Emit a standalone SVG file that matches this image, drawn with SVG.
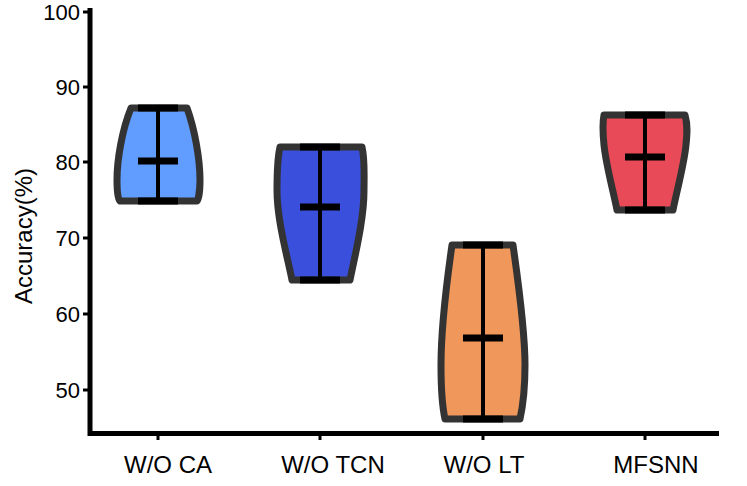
<svg xmlns="http://www.w3.org/2000/svg" width="747" height="486" viewBox="0 0 747 486">
<style>
.v{stroke:#333;stroke-width:7;stroke-linejoin:round}
.c{stroke:#000;stroke-width:7}
.w{stroke:#000;stroke-width:4}
.t{font-family:"Liberation Sans",Arial,sans-serif;fill:#000}
</style>
<rect width="747" height="486" fill="#fff"/>
<g id="axes" stroke="#000">
<line x1="90" y1="8" x2="90" y2="436" stroke-width="5"/>
<line x1="88" y1="433.5" x2="719" y2="433.5" stroke-width="5"/>
<g stroke-width="3"><line x1="83" y1="12" x2="90" y2="12"/><line x1="83" y1="87" x2="90" y2="87"/><line x1="83" y1="162" x2="90" y2="162"/><line x1="83" y1="238" x2="90" y2="238"/><line x1="83" y1="314" x2="90" y2="314"/><line x1="83" y1="390" x2="90" y2="390"/>
<line x1="158" y1="433" x2="158" y2="440"/><line x1="320" y1="433" x2="320" y2="440"/><line x1="483" y1="433" x2="483" y2="440"/><line x1="645" y1="433" x2="645" y2="440"/></g>
</g>
<g class="t" font-size="22" text-anchor="end">
<text x="80" y="20">100</text><text x="80" y="95">90</text><text x="80" y="170">80</text><text x="80" y="246">70</text><text x="80" y="322">60</text><text x="80" y="398">50</text>
</g>
<g class="t" font-size="24" text-anchor="middle">
<text x="168" y="473">W/O CA</text><text x="333" y="473">W/O TCN</text><text x="484" y="473">W/O LT</text><text x="656" y="473">MFSNN</text>
<text transform="translate(32,236) rotate(-90)">Accuracy(%)</text>
</g>
<g id="v1"><path class="v" fill="#619CFF" d="M131,108 L187,108 C195,130 200,160 200,180 C200,192 198,200 197,201 L120,201 C118,200 117,192 117,180 C117,160 122,130 131,108 Z"/>
<line class="w" x1="158" y1="108" x2="158" y2="201"/><line class="c" x1="138" y1="108" x2="178" y2="108"/><line class="c" x1="138" y1="201" x2="178" y2="201"/><line class="c" x1="138" y1="161" x2="178" y2="161"/></g>
<g id="v2"><path class="v" fill="#3A50DC" d="M280,147 L362,147 C365,160 364,175 364,190 C364,220 355,255 350,280 L292,280 C287,255 277,220 277,190 C277,175 277,160 280,147 Z"/>
<line class="w" x1="320" y1="147" x2="320" y2="280"/><line class="c" x1="300" y1="147" x2="340" y2="147"/><line class="c" x1="300" y1="280" x2="340" y2="280"/><line class="c" x1="300" y1="207" x2="340" y2="207"/></g>
<g id="v3"><path class="v" fill="#F0975C" d="M452,245 L513,245 C518,280 525,330 525,365 C525,395 522,410 520,419 L445,419 C443,410 441,395 441,365 C441,330 447,280 452,245 Z"/>
<line class="w" x1="483" y1="245" x2="483" y2="419"/><line class="c" x1="463" y1="245" x2="503" y2="245"/><line class="c" x1="463" y1="419" x2="503" y2="419"/><line class="c" x1="463" y1="338" x2="503" y2="338"/></g>
<g id="v4"><path class="v" fill="#E84A58" d="M604,115 L685,115 C688,125 687,135 686,145 C684,165 677,190 673,210 L617,210 C613,190 606,165 604,145 C603,135 602,125 604,115 Z"/>
<line class="w" x1="645" y1="115" x2="645" y2="210"/><line class="c" x1="625" y1="115" x2="665" y2="115"/><line class="c" x1="625" y1="210" x2="665" y2="210"/><line class="c" x1="625" y1="157" x2="665" y2="157"/></g>
</svg>
